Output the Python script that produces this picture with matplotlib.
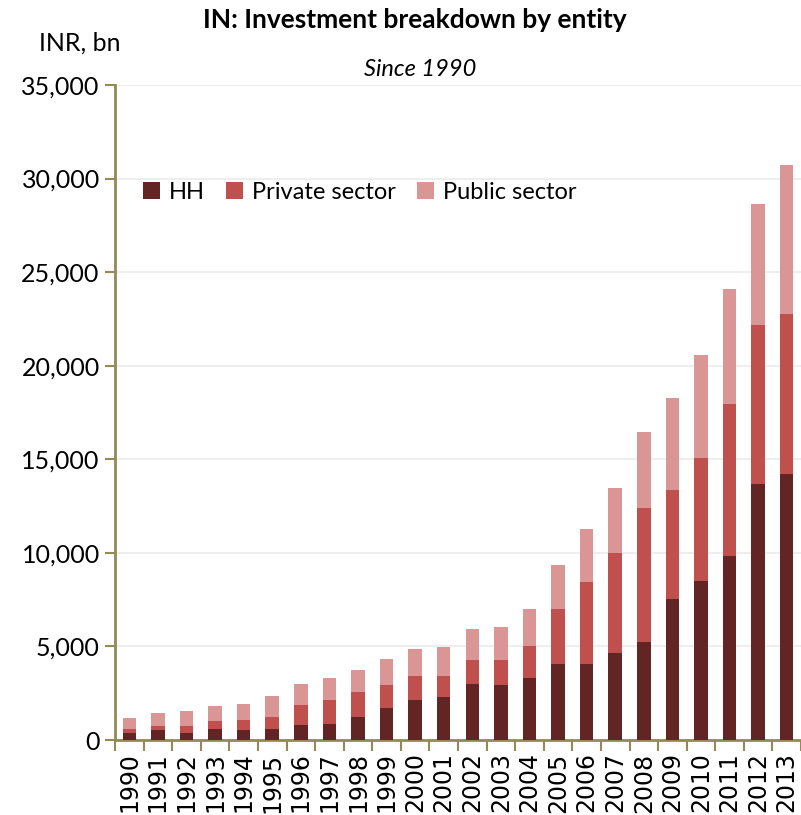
import numpy as np
import matplotlib
matplotlib.use("Agg")
import matplotlib.pyplot as plt

years = [str(y) for y in range(1990, 2014)]
hh = [390, 518, 390, 570, 518, 570, 801, 872, 1247, 1692, 2155, 2280,
      2992, 2957, 3331, 4061, 4061, 4631, 5237, 7534, 8479, 9832, 13680, 14214]
private = [180, 247, 375, 445, 551, 641, 1051, 1265, 1300, 1247, 1246, 1150,
           1265, 1335, 1692, 2957, 4364, 5361, 7167, 5825, 6598, 8122, 8513, 8550]
public = [590, 660, 785, 802, 871, 1122, 1122, 1176, 1211, 1371, 1462, 1550,
          1674, 1746, 1977, 2333, 2832, 3474, 4054, 4897, 5513, 6146, 6448, 7977]

c_hh = "#632523"
c_priv = "#C0504D"
c_pub = "#D99694"
axc = "#948A54"
font = "Lato"

fig = plt.figure(figsize=(8.01, 8.15), dpi=100)
ax = fig.add_axes([115 / 801, 75 / 815, 686 / 801, 655 / 815])

x = np.arange(len(years))
w = 0.47
hh_a = np.array(hh)
pr_a = np.array(private)
pu_a = np.array(public)
ax.bar(x, hh_a, w, color=c_hh, label="HH", zorder=3)
ax.bar(x, pr_a, w, bottom=hh_a, color=c_priv, label="Private sector", zorder=3)
ax.bar(x, pu_a, w, bottom=hh_a + pr_a, color=c_pub, label="Public sector", zorder=3)

ax.set_xlim(-0.5, 23.5)
ax.set_ylim(0, 35000)
ax.set_yticks(range(0, 35001, 5000))
ax.set_yticklabels([f"{v:,}" for v in range(0, 35001, 5000)], fontsize=18, family=font)
ax.yaxis.grid(True, color="#EBEBEB", linewidth=1.2, zorder=0)

ax.set_xticks(x)
ax.set_xticklabels(years, rotation=90, fontsize=17, family="DejaVu Sans")
ax.set_xticks(np.arange(len(years) + 1) - 0.5, minor=True)
ax.tick_params(axis="x", which="major", length=0, pad=9)
ax.tick_params(axis="x", which="minor", length=8, width=1.5, color=axc)
ax.tick_params(axis="y", length=7, width=1.5, color=axc, pad=4)

for s in ["top", "right"]:
    ax.spines[s].set_visible(False)
for s in ["left", "bottom"]:
    ax.spines[s].set_color(axc)
    ax.spines[s].set_linewidth(2)

leg = ax.legend(loc="upper left", bbox_to_anchor=(0.01, 0.885), ncol=3, frameon=False,
                prop={"family": font, "size": 17}, handlelength=0.7, handleheight=0.7,
                columnspacing=0.9, handletextpad=0.4)

fig.text(415 / 801, 1 - 20 / 815, "IN: Investment breakdown by entity", ha="center",
         va="center", fontsize=19, fontweight="bold", family=font)
fig.text(420 / 801, 1 - 70 / 815, "Since 1990", ha="center", va="center",
         fontsize=17, style="italic", family=font)
fig.text(80 / 801, 1 - 43 / 815, "INR, bn", ha="center", va="center",
         fontsize=18, family=font)

fig.savefig("out.png", dpi=100)
